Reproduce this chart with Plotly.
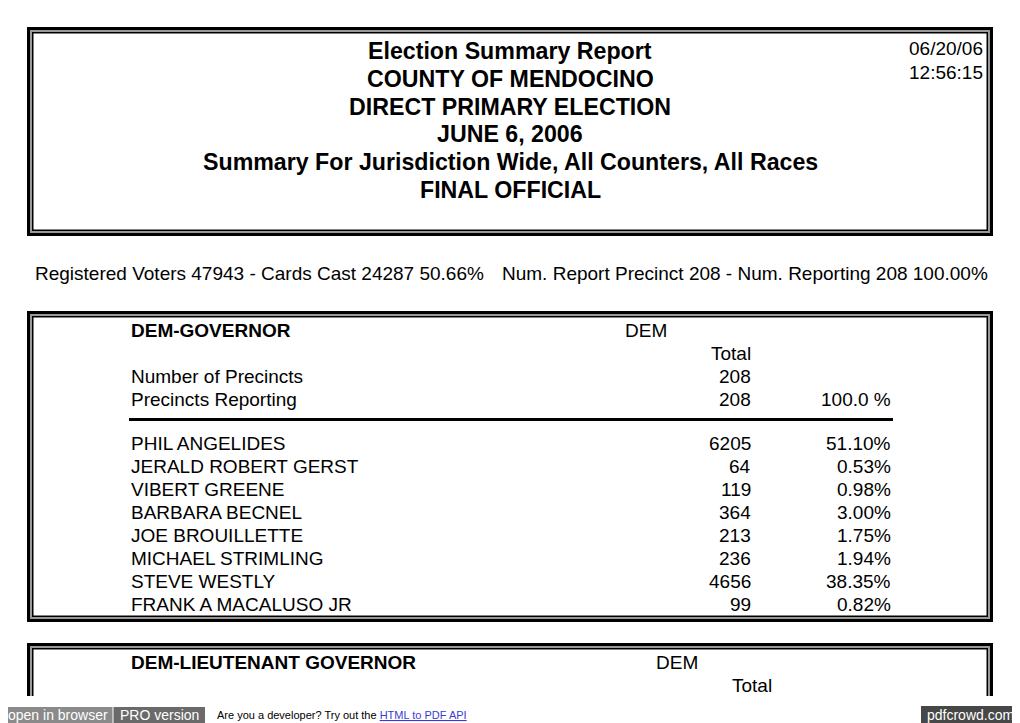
import plotly.graph_objects as go

W, H = 1020, 723
OFF = 8  # page body margin in the browser

title_lines = ["Election Summary Report", "COUNTY OF MENDOCINO", "DIRECT PRIMARY ELECTION",
               "JUNE 6, 2006", "Summary For Jurisdiction Wide, All Counters, All Races", "FINAL OFFICIAL"]
report_date = "06/20/06"
report_time = "12:56:15"
summary_left = "Registered Voters 47943 - Cards Cast 24287 50.66%"
summary_right = "Num. Report Precinct 208 - Num. Reporting 208 100.00%"

race1 = "DEM-GOVERNOR"
party1 = "DEM"
precinct_labels = ["Number of Precincts", "Precincts Reporting"]
precinct_values = [208, 208]
precinct_pct = ["", "100.0 %"]

candidates = ["PHIL ANGELIDES", "JERALD ROBERT GERST", "VIBERT GREENE", "BARBARA BECNEL",
              "JOE BROUILLETTE", "MICHAEL STRIMLING", "STEVE WESTLY", "FRANK A MACALUSO JR"]
votes = [6205, 64, 119, 364, 213, 236, 4656, 99]
pcts = ["51.10%", "0.53%", "0.98%", "3.00%", "1.75%", "1.94%", "38.35%", "0.82%"]

race2 = "DEM-LIEUTENANT GOVERNOR"
party2 = "DEM"

FONT = "Liberation Sans, Arial, sans-serif"
BODY = 19
fig = go.Figure()
shapes = []
ann = []


def frame(x0, y0, x1, y1):
    shapes.append(dict(type="rect", x0=x0, y0=y0, x1=x1, y1=y1, fillcolor="#000", line_width=0, layer="below"))
    shapes.append(dict(type="rect", x0=x0 + 3, y0=y0 + 3, x1=x1 - 3, y1=y1 - 3, fillcolor="#9a9a9a", line_width=0, layer="below"))
    shapes.append(dict(type="rect", x0=x0 + 5, y0=y0 + 5, x1=x1 - 5, y1=y1 - 5, fillcolor="#000", line_width=0, layer="below"))
    shapes.append(dict(type="rect", x0=x0 + 6.5, y0=y0 + 6.5, x1=x1 - 6.5, y1=y1 - 6.5, fillcolor="#fff", line_width=0, layer="below"))


def text(x, y, s, size=BODY, bold=False, anchor="left", color="#000"):
    ann.append(dict(x=x, y=y, xref="x", yref="y", text=f"<b>{s}</b>" if bold else s, showarrow=False,
                    xanchor=anchor, yanchor="middle",
                    font=dict(family=FONT, size=size, color=color)))


# header box
frame(27, 27, 993, 236)
for i, line in enumerate(title_lines):
    text(510, 51 + i * 27.8, line, size=23.2, bold=True, anchor="center")
text(985, 48, report_date, size=19, anchor="right")
text(985, 72, report_time, size=19, anchor="right")

text(33, 273, summary_left, anchor="left")
text(990, 273, summary_right, anchor="right")

# race 1 box
frame(27, 311, 993, 622)
text(129, 330, race1, bold=True)
text(623, 330, party1)
text(753, 353, "Total", anchor="right")
for i, (lab, val, pc) in enumerate(zip(precinct_labels, precinct_values, precinct_pct)):
    y = 376 + i * 23
    text(129, y, lab)
    text(753, y, str(val), anchor="right")
    if pc:
        text(893, y, pc, anchor="right")
shapes.append(dict(type="line", x0=129, x1=893, y0=419.5, y1=419.5, line=dict(color="#000", width=3)))
for i, (nm, v, p) in enumerate(zip(candidates, votes, pcts)):
    y = 443 + i * 23
    text(129, y, nm)
    text(753, y, str(v), anchor="right")
    text(893, y, p, anchor="right")

# race 2 box (cut off)
frame(27, 643, 993, 708)
shapes.append(dict(type="rect", x0=20, y0=696, x1=1000, y1=723, fillcolor="#fff", line_width=0, layer="below"))
text(129, 662, race2, bold=True)
text(654, 662, party2)
text(774, 685, "Total", anchor="right")

# footer bar
shapes.append(dict(type="rect", x0=OFF, y0=707, x1=112.5, y1=723, fillcolor="#8a8a8a", line_width=0))
shapes.append(dict(type="rect", x0=113.5, y0=707, x1=205, y1=723, fillcolor="#6a6a6a", line_width=0))
shapes.append(dict(type="rect", x0=921, y0=706, x1=1019, y1=723, fillcolor="#474747", line_width=0))
text(58, 715, "open in browser", size=14, anchor="center", color="#fff")
text(159, 715, "PRO version", size=14, anchor="center", color="#fff")
text(970, 715, "pdfcrowd.com", size=14, anchor="center", color="#fff")
ann.append(dict(x=215, y=715, xref="x", yref="y", showarrow=False, xanchor="left", yanchor="middle",
                text="Are you a developer? Try out the <span style='color:#3b3bd9'><u>HTML to PDF API</u></span>",
                font=dict(family=FONT, size=11, color="#000")))

fig.update_layout(width=W - OFF, height=H - OFF, margin=dict(l=0, r=0, t=0, b=0),
                  paper_bgcolor="#fff", plot_bgcolor="#fff", showlegend=False,
                  xaxis=dict(range=[OFF, W], visible=False, fixedrange=True),
                  yaxis=dict(range=[H, OFF], visible=False, fixedrange=True),
                  shapes=shapes, annotations=ann)
fig.write_html("out.html", config={"displayModeBar": False})
